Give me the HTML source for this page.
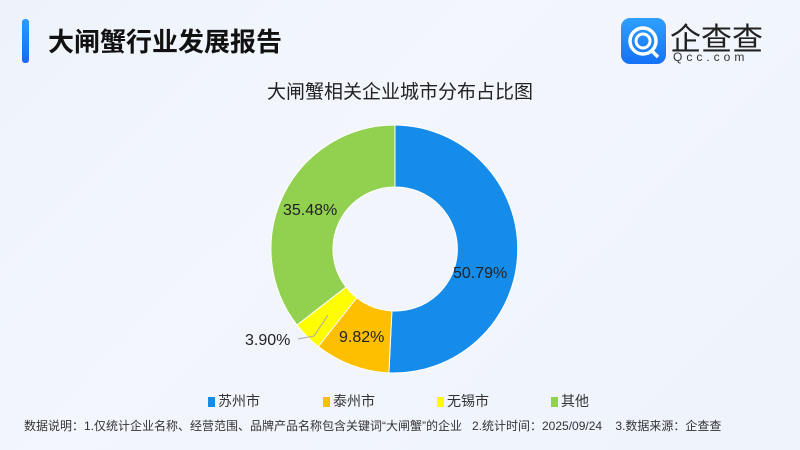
<!DOCTYPE html>
<html><head><meta charset="utf-8"><style>
body{margin:0;width:800px;height:450px;overflow:hidden;background:linear-gradient(135deg,#eef3fb 0%,#f3f6fc 40%,#eef3fc 100%);font-family:"Liberation Sans","Noto Sans CJK SC",sans-serif;position:relative}
.bar{position:absolute;left:22px;top:19px;width:7px;height:44px;border-radius:3px;background:linear-gradient(#2a9cff,#1769f0)}
.h1{position:absolute;left:48px;top:22px;font-size:26px;font-weight:bold;color:#111}
.t{position:absolute;left:0;width:800px;top:77px;text-align:center;font-size:19px;color:#222}
.note{position:absolute;left:24px;top:417px;font-size:12px;color:#333}
.lg{position:absolute;top:391px;font-size:14px;color:#333}
.lg i{display:inline-block;width:7px;height:10px;margin-right:3px;vertical-align:-1px}
</style></head><body>
<div class="bar"></div>
<div class="h1">大闸蟹行业发展报告</div>
<div style="position:absolute;left:621px;top:18px;width:45px;height:46px;border-radius:9px;background:linear-gradient(#2ea0ff,#1572f5)"></div>
<svg style="position:absolute;left:621px;top:18px" width="45" height="46"><circle cx="22" cy="23" r="13" fill="none" stroke="#fff" stroke-width="3.5"/><circle cx="22" cy="23" r="7" fill="none" stroke="#fff" stroke-width="3"/><line x1="30" y1="32" x2="37" y2="39" stroke="#fff" stroke-width="3.5"/></svg>
<div style="position:absolute;left:670px;top:14px;font-size:31px;color:#222">企查查</div>
<div style="position:absolute;left:673px;top:50px;font-size:12px;color:#333;letter-spacing:4px">Qcc.com</div>
<div class="t">大闸蟹相关企业城市分布占比图</div>
<svg style="position:absolute;left:0;top:0" width="800" height="450">
<g stroke="#fff" stroke-width="1">
<path d="M395,125 A124,124 0 1 1 388.9,372.9 L391.9,310.9 A62,62 0 1 0 395,187 Z" fill="#158cea"/>
<path d="M388.9,372.9 A124,124 0 0 1 318.3,346.5 L356.7,297.7 A62,62 0 0 0 391.9,310.9 Z" fill="#fdbf00"/>
<path d="M318.3,346.5 A124,124 0 0 1 297,325 L346,287 A62,62 0 0 0 356.7,297.7 Z" fill="#fefe00"/>
<path d="M297,325 A124,124 0 0 1 395,125 L395,187 A62,62 0 0 0 346,287 Z" fill="#92d050"/>
</g>
<polyline points="328,315 314,336 298,339" fill="none" stroke="#aaa" stroke-width="1"/>
<g font-size="16" fill="#222" font-family="Liberation Sans,sans-serif">
<text x="453" y="278">50.79%</text>
<text x="339" y="342">9.82%</text>
<text x="245" y="345">3.90%</text>
<text x="283" y="215">35.48%</text>
</g>
</svg>
<div class="lg" style="left:208px"><i style="background:#158cea"></i>苏州市</div>
<div class="lg" style="left:323px"><i style="background:#fdbf00"></i>泰州市</div>
<div class="lg" style="left:437px"><i style="background:#fefe00"></i>无锡市</div>
<div class="lg" style="left:551px"><i style="background:#92d050"></i>其他</div>
<div class="note">数据说明：1.仅统计企业名称、经营范围、品牌产品名称包含关键词“大闸蟹”的企业&nbsp;&nbsp;&nbsp;2.统计时间：2025/09/24&nbsp;&nbsp;&nbsp;&nbsp;3.数据来源：企查查</div>
</body></html>
